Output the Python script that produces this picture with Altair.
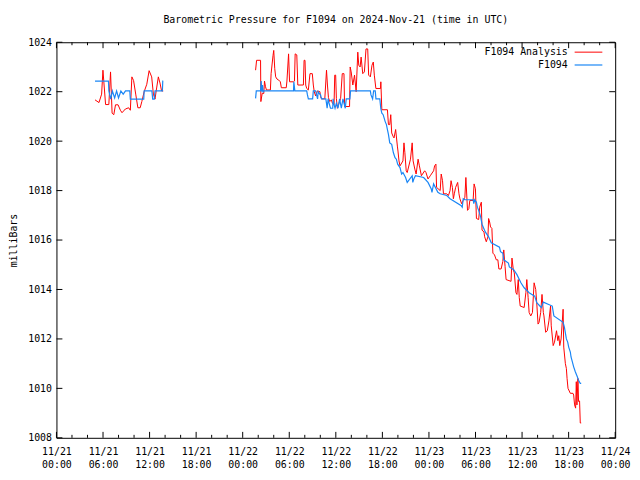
import altair as alt
import pandas as pd

FONT = "DejaVu Sans Mono"
RED = "#ff0000"
BLUE = "#1a86f5"

TITLE = "Barometric Pressure for F1094 on 2024-Nov-21 (time in UTC)"
Y_TITLE = "milliBars"
SERIES = ["F1094 Analysis", "F1094"]

BASE_MS = pd.Timestamp("2024-11-21T00:00:00Z").value // 10**6
HOUR_MS = 3600 * 1000

# ---- data: hours after 2024-11-21 00:00 UTC, pressure in mbar ----
# F1094 Analysis, morning of 11/21
ana1_h = [4.97, 5.48, 5.82, 5.99, 6.33, 6.75, 6.97, 7.17, 7.39, 7.61, 7.94, 8.24, 8.45,
          8.88, 9.30, 9.52, 9.72, 9.94, 10.23, 10.49, 10.79, 11.00, 11.30, 11.64, 11.94,
          12.27, 12.49, 12.70, 12.91, 13.13, 13.34, 13.55, 13.76]
ana1_p = [1021.67, 1021.56, 1021.90, 1022.87, 1021.48, 1021.48, 1022.80, 1021.13, 1021.07,
          1021.47, 1021.47, 1021.25, 1021.15, 1021.30, 1021.35, 1021.25, 1022.60, 1022.45,
          1021.87, 1021.35, 1021.35, 1021.60, 1022.00, 1022.30, 1022.85, 1022.60, 1021.90,
          1021.70, 1022.15, 1022.60, 1022.35, 1022.03, 1022.03]

# F1094, morning of 11/21
obs1_h = [4.97, 6.70, 6.75, 7.00, 7.20, 7.50, 7.75, 8.00, 8.30, 8.60, 8.90, 9.45, 9.52,
          11.25, 11.30, 12.30, 12.40, 12.60, 12.70, 13.65, 13.70, 13.76]
obs1_p = [1022.43, 1022.43, 1022.03, 1021.70, 1022.03, 1021.75, 1022.03, 1021.75, 1022.03,
          1021.90, 1022.03, 1022.03, 1021.70, 1021.70, 1022.03, 1022.03, 1021.70, 1021.70,
          1022.03, 1022.03, 1022.43, 1022.43]

# F1094 Analysis, 11/22 01:40 onward
ana2_h = [25.66, 25.79, 26.30, 26.34, 26.51, 26.72, 26.81, 26.94, 27.06, 27.57, 27.66, 27.91,
          28.00, 28.13, 28.25, 28.42, 28.64, 28.85, 28.98, 29.61, 29.70, 29.91, 30.04, 30.55,
          30.67, 30.76, 30.97, 31.10, 31.82, 31.91, 32.03, 32.12, 32.25, 32.46, 32.67, 32.97,
          33.10, 33.22, 33.39, 33.61, 33.95, 34.03, 34.16, 34.58, 34.80, 34.92, 35.05, 35.22,
          35.43, 35.56, 35.77, 35.86, 35.98, 36.07, 36.20, 36.41, 36.62, 36.83, 37.05, 37.13,
          37.77, 37.85, 37.98, 38.19, 38.41, 38.62, 38.83, 38.96, 39.13, 39.26, 39.47, 39.68,
          39.89, 40.11, 40.23, 40.45, 40.66, 40.83, 40.96,
          41.16, 41.76, 41.80, 41.93, 42.65, 42.78, 42.95, 43.08, 43.20, 43.37, 43.50, 43.71,
          43.93, 44.01, 44.14, 44.27, 44.65, 44.78, 44.90, 45.07, 45.20, 45.62, 45.84, 45.96,
          46.18, 46.35, 46.60, 46.77, 47.03, 47.45, 47.62, 47.88, 48.17, 48.60, 48.73, 48.90,
          48.98, 49.45, 49.58, 49.75, 49.87, 50.30, 50.51, 50.72, 50.85, 51.02, 51.15, 51.27,
          51.44, 51.70, 51.87, 51.99, 52.21, 52.42, 52.63,
          52.76, 52.97, 53.14, 53.27, 53.69, 53.82, 53.99, 54.12, 54.41, 54.54, 54.75, 54.84,
          55.09, 55.18, 55.39, 55.60, 55.69, 55.82, 55.94, 56.11, 56.24, 56.45, 56.67, 56.88,
          57.01, 57.30, 57.52, 57.64, 57.81, 57.94, 58.58, 58.70, 58.87, 59.00,
          59.21, 59.34, 59.51, 59.64, 59.76, 60.27, 60.49, 60.61, 60.78, 60.91, 61.12, 61.34,
          61.55, 61.76, 61.89, 62.06, 62.19, 62.40, 62.57, 62.74, 62.82, 63.04, 63.25, 63.46,
          63.67, 63.76, 64.01, 64.18, 64.44, 64.61, 64.73, 64.86, 65.03, 65.29, 65.37, 65.58,
          65.71, 65.80, 65.92, 66.22, 66.56, 66.65, 66.77, 66.90, 66.99, 67.07, 67.20, 67.28,
          67.41, 67.50, 67.62]
ana2_p = [1022.87, 1023.27, 1023.27, 1021.60, 1021.93, 1021.93, 1022.43, 1022.20, 1022.07,
          1022.07, 1022.73, 1023.47, 1023.67, 1022.93, 1022.60, 1022.51, 1022.47, 1022.40,
          1022.16, 1022.16, 1022.43, 1023.53, 1022.40, 1022.40, 1022.43, 1023.53, 1023.49,
          1022.27, 1022.27, 1023.27, 1023.27, 1022.27, 1022.13, 1022.07, 1022.73, 1022.73,
          1022.27, 1022.00, 1021.83, 1022.03, 1022.00, 1021.80, 1021.71, 1021.71, 1022.87,
          1022.27, 1021.76, 1021.60, 1021.67, 1021.53, 1021.47, 1022.67, 1022.67, 1021.73,
          1021.33, 1021.53, 1021.73, 1022.73, 1022.73, 1021.40, 1021.40, 1023.00, 1022.80,
          1022.27, 1022.67, 1022.00, 1023.60, 1023.07, 1023.00, 1023.40, 1022.73, 1022.80,
          1023.73, 1023.73, 1022.67, 1022.60, 1023.07, 1023.20, 1022.67,
          1022.13, 1022.13, 1022.40, 1021.27, 1021.27, 1020.67, 1020.67, 1021.07, 1020.33,
          1020.20, 1020.13, 1020.47, 1019.80, 1019.60, 1019.20, 1019.00, 1019.20, 1019.93,
          1019.53, 1018.80, 1018.73, 1019.27, 1019.93, 1019.20, 1018.87, 1018.67, 1019.27,
          1019.00, 1018.60, 1018.80, 1018.73, 1018.47, 1018.60, 1018.80, 1019.00, 1019.07,
          1018.13, 1018.00, 1018.67, 1018.40, 1017.87, 1017.87, 1017.80, 1018.00, 1018.40,
          1018.13, 1017.67, 1017.87, 1018.13, 1018.33, 1017.87, 1017.67, 1017.47, 1017.60,
          1017.73,
          1018.53, 1017.20, 1017.27, 1017.60, 1017.60, 1018.27, 1018.07, 1016.87, 1016.83,
          1017.33, 1017.53, 1016.40, 1016.33, 1016.13, 1015.93, 1016.13, 1016.87, 1016.73,
          1016.53, 1016.47, 1015.47, 1015.40, 1015.20, 1015.20, 1014.83, 1014.83, 1015.13,
          1015.60, 1014.93, 1014.40, 1014.33, 1015.27, 1014.80, 1014.67,
          1013.87, 1013.80, 1014.40, 1013.67, 1013.33, 1013.27, 1013.87, 1014.40, 1013.67,
          1013.07, 1012.93, 1013.07, 1014.27, 1014.00, 1013.47, 1012.60, 1012.67, 1013.07,
          1013.80, 1013.07, 1012.93, 1012.27, 1012.33, 1012.73, 1013.33, 1012.53, 1011.73,
          1011.87, 1012.33, 1011.93, 1012.13, 1011.73, 1012.00, 1013.20, 1011.67, 1011.00,
          1010.80, 1010.40, 1010.00, 1009.80, 1009.80, 1009.73, 1009.33, 1009.20, 1010.27,
          1009.33, 1010.40, 1009.47, 1009.49, 1008.60, 1008.60]

# F1094, 11/22 01:40 onward
obs2_h = [25.66, 25.75, 26.30, 26.38, 26.47, 26.55, 26.64, 26.72, 30.55, 30.59, 30.72, 32.25,
          32.33, 32.46, 33.01, 33.10, 33.39, 33.52, 33.65, 33.73, 33.86, 34.03, 34.16, 34.71,
          34.80, 34.88, 35.01, 35.14, 35.31, 35.60, 35.65, 35.73, 35.90, 36.07, 36.28, 36.49,
          36.71, 36.92, 37.22, 37.34, 37.81, 37.90, 40.45, 40.53, 40.74, 40.87, 41.08, 41.17,
          41.67,
          41.80, 41.93, 42.10, 42.23, 42.35, 42.52, 42.65, 42.78, 42.95, 43.20, 43.29, 43.42,
          43.63, 43.80, 43.97, 44.27, 44.48, 44.65, 44.99, 45.20, 45.84, 45.92, 46.05, 46.26,
          47.32, 47.88, 48.30, 48.39, 48.60, 49.15, 49.45, 50.30, 50.72, 52.12, 52.29, 52.42,
          52.63, 53.70, 53.78, 53.90, 54.12, 54.24, 54.41, 54.54, 54.67, 54.84, 55.26, 55.69,
          56.03, 57.09, 57.22, 57.52, 57.64, 58.24, 58.36, 58.92, 59.34,
          59.85, 60.27, 60.91, 61.63, 61.89, 62.48, 62.74, 63.89, 64.10, 65.29, 65.46, 65.71,
          65.88, 66.01, 66.22, 66.31, 66.43, 66.65, 66.86, 67.07, 67.28, 67.50, 67.62]
obs2_p = [1021.73, 1022.03, 1022.03, 1022.43, 1022.00, 1022.27, 1022.00, 1022.03, 1022.03,
          1022.40, 1022.03, 1022.03, 1021.89, 1021.71, 1021.71, 1022.03, 1022.03, 1021.87,
          1021.71, 1022.00, 1021.93, 1021.87, 1021.71, 1021.71, 1021.53, 1021.33, 1021.71,
          1021.53, 1021.33, 1021.33, 1021.71, 1021.53, 1021.33, 1021.53, 1021.33, 1021.71,
          1021.33, 1021.71, 1021.33, 1021.71, 1021.71, 1022.03, 1022.03, 1021.87, 1021.71,
          1022.03, 1022.03, 1021.71, 1021.71,
          1021.31, 1021.13, 1021.07, 1020.93, 1020.80, 1020.67, 1020.47, 1020.27, 1019.93,
          1019.87, 1019.73, 1019.53, 1019.33, 1019.27, 1019.07, 1018.93, 1018.67, 1018.73,
          1018.53, 1018.33, 1018.60, 1018.33, 1018.47, 1018.60, 1018.53, 1018.33, 1018.07,
          1017.93, 1018.27, 1017.93, 1017.87, 1017.80, 1017.67, 1017.40, 1017.33, 1017.67,
          1017.63, 1017.63, 1017.47, 1017.63, 1017.53, 1017.33, 1017.20, 1017.07, 1016.93,
          1016.64, 1016.33, 1016.13, 1015.89, 1015.71, 1015.53, 1015.47, 1015.20, 1015.07,
          1014.91, 1014.80, 1014.60,
          1014.27, 1014.07, 1013.87, 1013.73, 1013.47, 1013.27, 1013.49, 1013.33, 1012.93,
          1012.67, 1012.47, 1012.00, 1011.87, 1011.67, 1011.47, 1011.27, 1011.13, 1010.87,
          1010.67, 1010.51, 1010.33, 1010.20, 1010.20]

# axis ticks
label_hours = [0, 6, 12, 18, 24, 30, 36, 42, 48, 54, 60, 66, 72]
minor_hours = [2, 4, 8, 10, 14, 16, 20, 22, 26, 28, 32, 34, 38, 40, 44, 46, 50, 52, 56, 58,
               62, 64, 68, 70]
y_ticks = [1008, 1010, 1012, 1014, 1016, 1018, 1020, 1022, 1024]


def frame(segments):
    rows = []
    for seg, (hs, ps) in enumerate(segments):
        for h, p in zip(hs, ps):
            rows.append({"t": BASE_MS + h * HOUR_MS, "p": p, "seg": seg})
    return pd.DataFrame(rows)


ana_df = frame([(ana1_h, ana1_p), (ana2_h, ana2_p)])
obs_df = frame([(obs1_h, obs1_p), (obs2_h, obs2_p)])
major_df = pd.DataFrame({"t": [BASE_MS + h * HOUR_MS for h in label_hours]})
minor_df = pd.DataFrame({"t": [BASE_MS + h * HOUR_MS for h in minor_hours]})
ytick_df = pd.DataFrame({"p": y_ticks})

W, H = 565, 400

x_scale = alt.Scale(type="utc", domain=[BASE_MS, BASE_MS + 72 * HOUR_MS], nice=False)
y_scale = alt.Scale(domain=[1008, 1024], nice=False, zero=False)

x_axis = alt.Axis(
    values=[BASE_MS + h * HOUR_MS for h in label_hours],
    labelExpr="[utcFormat(datum.value, '%m/%d'), utcFormat(datum.value, '%H:%M')]",
    ticks=False, domain=False, grid=False, title=None,
    labelFont=FONT, labelFontSize=10, labelColor="black", labelPadding=9,
    labelLineHeight=13, labelFlush=False, labelOverlap=False, labelBound=False,
)
y_axis = alt.Axis(
    values=y_ticks, format="d", ticks=False, domain=False, grid=False,
    labelFont=FONT, labelFontSize=10, labelColor="black", labelPadding=5,
    title=Y_TITLE, titleFont=FONT, titleFontSize=10, titleFontWeight="normal",
    titleColor="black", titlePadding=9,
)

X = alt.X("t:T", scale=x_scale, axis=x_axis)
Y = alt.Y("p:Q", scale=y_scale, axis=y_axis)

ana_line = alt.Chart(ana_df).mark_line(color=RED, strokeWidth=1).encode(
    x=X, y=Y, detail="seg:N")
obs_line = alt.Chart(obs_df).mark_line(color=BLUE, strokeWidth=1.2).encode(
    x=X, y=Y, detail="seg:N")

tick_mark = dict(color="black", strokeWidth=1)
bot_major = alt.Chart(major_df).mark_rule(**tick_mark).encode(
    x=X, y=alt.value(H), y2=alt.value(H - 6))
top_major = alt.Chart(major_df).mark_rule(**tick_mark).encode(
    x=X, y=alt.value(0), y2=alt.value(6))
bot_minor = alt.Chart(minor_df).mark_rule(**tick_mark).encode(
    x=X, y=alt.value(H), y2=alt.value(H - 3))
top_minor = alt.Chart(minor_df).mark_rule(**tick_mark).encode(
    x=X, y=alt.value(0), y2=alt.value(3))
left_ticks = alt.Chart(ytick_df).mark_rule(**tick_mark).encode(
    y=Y, x=alt.value(0), x2=alt.value(6))
right_ticks = alt.Chart(ytick_df).mark_rule(**tick_mark).encode(
    y=Y, x=alt.value(W), x2=alt.value(W - 6))

one = alt.Data(values=[{}])
leg_text1 = alt.Chart(one).mark_text(align="right", baseline="middle", font=FONT,
                                     fontSize=10, color="black").encode(
    x=alt.value(517), y=alt.value(10), text=alt.value(SERIES[0]))
leg_text2 = alt.Chart(one).mark_text(align="right", baseline="middle", font=FONT,
                                     fontSize=10, color="black").encode(
    x=alt.value(517), y=alt.value(23), text=alt.value(SERIES[1]))
leg_rule1 = alt.Chart(one).mark_rule(color=RED, strokeWidth=1).encode(
    x=alt.value(524), x2=alt.value(552), y=alt.value(10))
leg_rule2 = alt.Chart(one).mark_rule(color=BLUE, strokeWidth=1.2).encode(
    x=alt.value(524), x2=alt.value(552), y=alt.value(23))

chart = alt.layer(
    ana_line, obs_line,
    bot_major, top_major, bot_minor, top_minor, left_ticks, right_ticks,
    leg_text1, leg_text2, leg_rule1, leg_rule2,
).properties(
    width=W, height=H,
    title=alt.TitleParams(text=TITLE, font=FONT, fontSize=10, fontWeight="normal",
                          color="black", anchor="middle", frame="group", offset=12),
    padding={"left": 49, "top": 32, "right": 17, "bottom": 38},
    autosize=alt.AutoSizeParams(type="none"),
    background="white",
).configure_view(stroke="black", strokeWidth=1)

chart.save("out.html", embed_options={"renderer": "svg", "actions": False})
